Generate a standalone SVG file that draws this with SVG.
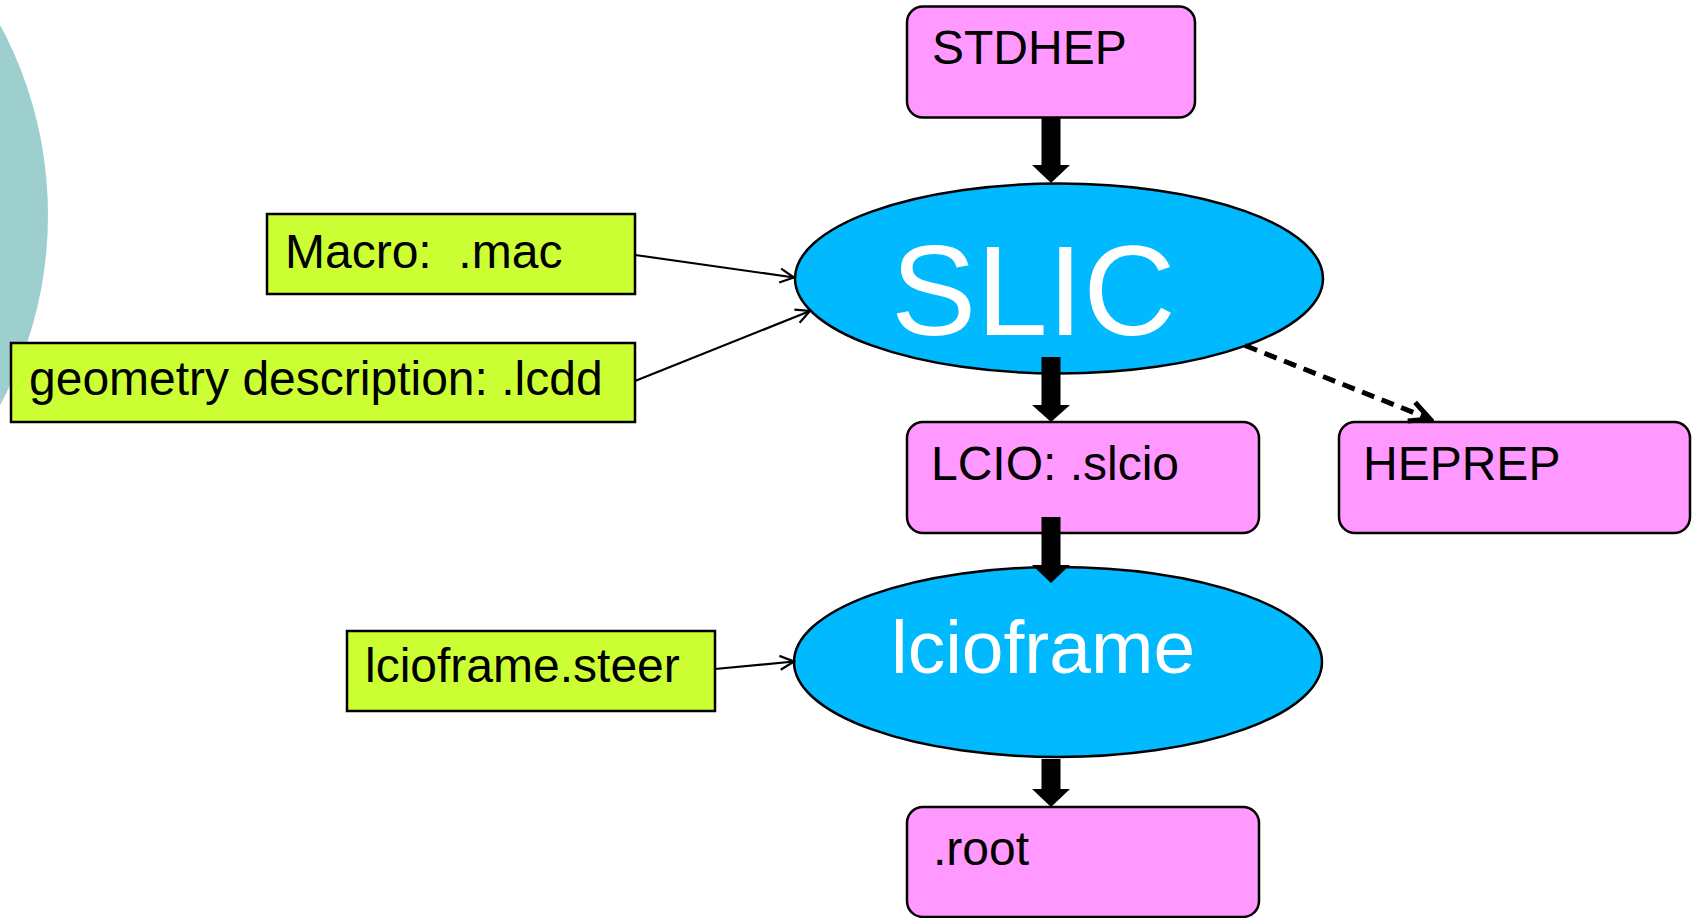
<svg xmlns="http://www.w3.org/2000/svg" width="1693" height="918" viewBox="0 0 1693 918">
<style>
.pink{fill:#FF99FF;stroke:#000;stroke-width:2.5}
.green{fill:#CCFF33;stroke:#000;stroke-width:2.5}
.blue{fill:#00B9FF;stroke:#000;stroke-width:2.5}
.t{font-family:"Liberation Sans",Arial,sans-serif;font-size:48px;fill:#000}
.w{font-family:"Liberation Sans",Arial,sans-serif;fill:#fff}
.thin{stroke:#000;stroke-width:2.2;fill:none}
.dash{stroke:#000;stroke-width:5;fill:none;stroke-dasharray:13 8}
</style>
<defs>
<marker id="open" markerWidth="18" markerHeight="18" refX="16" refY="9" orient="auto" markerUnits="userSpaceOnUse" viewBox="0 0 18 18">
<path d="M2,2 L16,9 L2,16" fill="none" stroke="#000" stroke-width="2.2"/>
</marker>
<marker id="openDash" markerWidth="26" markerHeight="26" refX="22" refY="13" orient="auto" markerUnits="userSpaceOnUse" viewBox="0 0 26 26">
<path d="M2,3 L22,13 L2,23" fill="none" stroke="#000" stroke-width="5"/>
</marker>
</defs>
<ellipse id="bg-circle" cx="-310" cy="215" rx="358" ry="380" fill="#9DCFCF"/>

<g id="stdhep">
<rect class="pink" x="907" y="6.5" width="288" height="111" rx="16"/>
<text class="t" x="932" y="64">STDHEP</text>
</g>
<g id="slic">
<ellipse class="blue" cx="1059" cy="278.5" rx="264" ry="95"/>
<text class="w" x="891" y="335" font-size="128">SLIC</text>
</g>
<g id="macro">
<rect class="green" x="267" y="214" width="368" height="80"/>
<text class="t" x="285" y="268" xml:space="preserve">Macro:  .mac</text>
</g>
<g id="geometry">
<rect class="green" x="11" y="343" width="624" height="79"/>
<text class="t" x="29" y="395">geometry description: .lcdd</text>
</g>
<g id="lcio">
<rect class="pink" x="907" y="422" width="352" height="111" rx="16"/>
<text class="t" x="931" y="480">LCIO: .slcio</text>
</g>
<g id="heprep">
<rect class="pink" x="1339" y="422" width="351" height="111" rx="16"/>
<text class="t" x="1363" y="480">HEPREP</text>
</g>
<g id="lcioframe">
<ellipse class="blue" cx="1058" cy="662" rx="264" ry="95"/>
<text class="w" x="891" y="673" font-size="75">lcioframe</text>
</g>
<g id="steer">
<rect class="green" x="347" y="631" width="368" height="80"/>
<text class="t" x="365" y="682">lcioframe.steer</text>
</g>
<g id="root">
<rect class="pink" x="907" y="807" width="352" height="110" rx="16"/>
<text class="t" x="933" y="865">.root</text>
</g>

<g id="connectors">
<path d="M1041.5,118 V165 H1032 L1051,183 L1070,165 H1060.5 V118 Z" fill="#000"/>
<path d="M1041.5,357 V405 H1032 L1051,422 L1070,405 H1060.5 V357 Z" fill="#000"/>
<path d="M1041.5,517 V565 H1032 L1051,583 L1070,565 H1060.5 V517 Z" fill="#000"/>
<path d="M1041.5,759 V789 H1032 L1051,807 L1070,789 H1060.5 V759 Z" fill="#000"/>
<line class="thin" x1="635" y1="255" x2="794" y2="277.5" marker-end="url(#open)"/>
<line class="thin" x1="635" y1="381" x2="810" y2="311" marker-end="url(#open)"/>
<line class="thin" x1="715" y1="669" x2="794" y2="661.5" marker-end="url(#open)"/>
<line class="dash" x1="1245" y1="345.5" x2="1430" y2="419" marker-end="url(#openDash)"/>
</g>
</svg>
